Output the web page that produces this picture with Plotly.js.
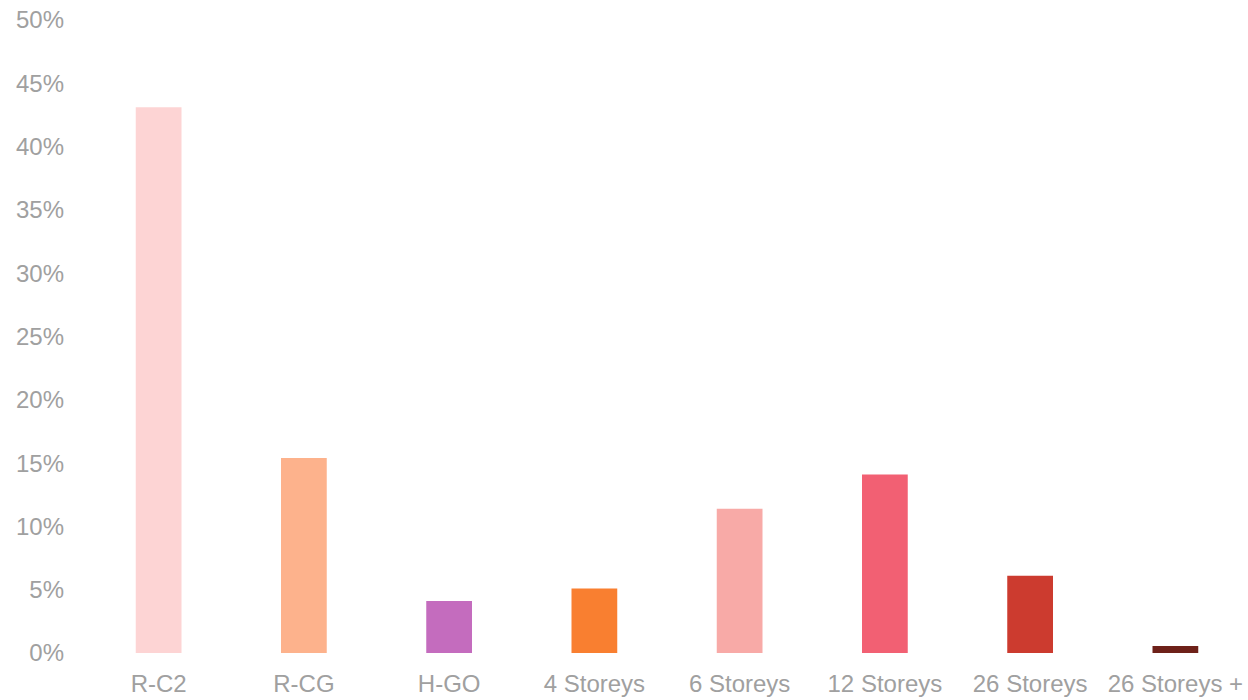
<!DOCTYPE html>
<html>
<head>
<meta charset="utf-8">
<script src="https://cdn.plot.ly/plotly-3.0.1.min.js"></script>
<style>html,body{margin:0;padding:0;background:#fff;}#chart{width:1248px;height:700px;}</style>
</head>
<body>
<div id="chart"></div>
<script>
const categories = ["R-C2", "R-CG", "H-GO", "4 Storeys", "6 Storeys", "12 Storeys", "26 Storeys", "26 Storeys +"];
const shares = [0.431, 0.154, 0.041, 0.051, 0.114, 0.141, 0.061, 0.0055];
const barColors = ["#FDD4D4", "#FDB28C", "#C46CBE", "#F97F30", "#F8AAA7", "#F26073", "#CC3B2F", "#6E2119"];
const yTicks = [0, 0.05, 0.10, 0.15, 0.20, 0.25, 0.30, 0.35, 0.40, 0.45, 0.50];
const yTickLabels = ["0%", "5%", "10%", "15%", "20%", "25%", "30%", "35%", "40%", "45%", "50%"];

const trace = {
  type: "bar",
  x: categories,
  y: shares,
  marker: {color: barColors, line: {width: 0}},
  hoverinfo: "x+y"
};

const layout = {
  width: 1248,
  height: 700,
  margin: {l: 86, r: 0, t: 20, b: 47},
  paper_bgcolor: "#ffffff",
  plot_bgcolor: "#ffffff",
  font: {family: "Liberation Sans, Arial, sans-serif", size: 24, color: "#a0a0a0"},
  bargap: 0.685,
  showlegend: false,
  xaxis: {
    type: "category",
    showgrid: false,
    zeroline: false,
    showline: false,
    ticks: "",
    ticklabelstandoff: 14,
    tickfont: {size: 24, color: "#a0a0a0"}
  },
  yaxis: {
    range: [0, 0.5],
    tickvals: yTicks,
    ticktext: yTickLabels,
    showgrid: false,
    zeroline: false,
    showline: false,
    ticks: "",
    ticklabelstandoff: 21,
    tickfont: {size: 24, color: "#a0a0a0"}
  }
};

Plotly.newPlot("chart", [trace], layout, {displayModeBar: false, staticPlot: true});
</script>
</body>
</html>
